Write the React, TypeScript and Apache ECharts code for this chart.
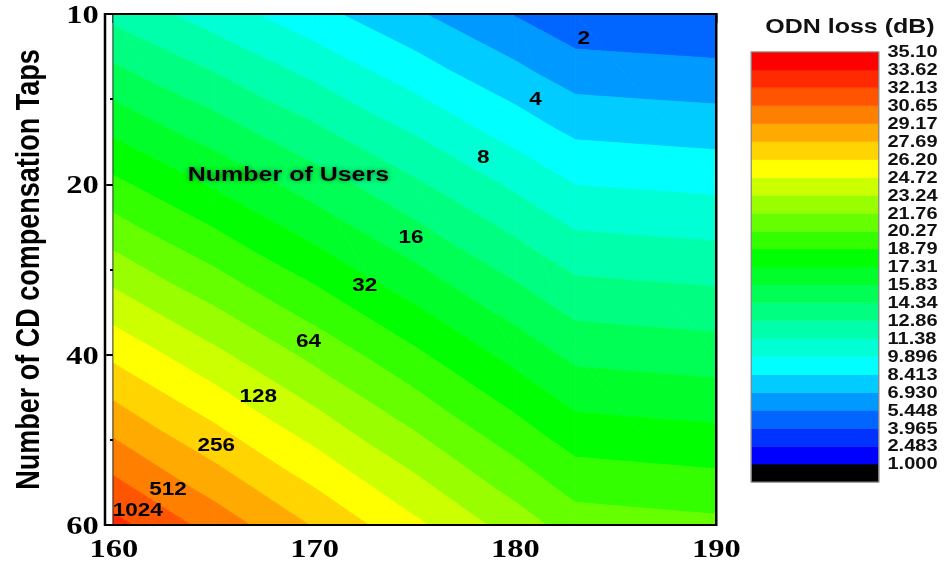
import React, { useEffect, useRef } from "react";
import * as echarts from "echarts";

// Rows: number of CD compensation taps (drawn evenly spaced, one row per entry)
const tapLabels = ["10", "20", "40", "60"];
// Columns along the horizontal axis
const xColumns = [160, 165, 170, 175, 180, 183, 190];
// ODN loss (dB) for each tap row, one value per column
const loss10 = [12.4, 10.64, 8.88, 7.12, 5.36, 4.3, 4.0];
const loss20 = [19.13, 17.12, 15.11, 13.09, 11.08, 9.87, 9.54];
const loss40 = [25.86, 23.6, 21.33, 19.07, 16.8, 15.44, 15.08];
const loss60 = [32.6, 30.07, 27.56, 25.04, 22.53, 21.01, 20.62];
const lossRows = [loss10, loss20, loss40, loss60];

// Contour levels (dB) and their legend texts
const contourLevels = [
  1.0, 2.483, 3.965, 5.448, 6.93, 8.413, 9.896, 11.38, 12.86, 14.34, 15.83, 17.31,
  18.79, 20.27, 21.76, 23.24, 24.72, 26.2, 27.69, 29.17, 30.65, 32.13, 33.62, 35.1,
];
const levelLabels = [
  "1.000", "2.483", "3.965", "5.448", "6.930", "8.413", "9.896", "11.38", "12.86", "14.34",
  "15.83", "17.31", "18.79", "20.27", "21.76", "23.24", "24.72", "26.20", "27.69", "29.17",
  "30.65", "32.13", "33.62", "35.10",
];
// Fill colour of each band between consecutive levels (low to high)
const bandColors = [
  "#0000FF", "#0033FF", "#0066FF", "#0099FF", "#00CCFF", "#00FFFF", "#00FFD4", "#00FFAA",
  "#00FF80", "#00FF55", "#00FF2A", "#00FF00", "#33FF00", "#66FF00", "#99FF00", "#CCFF00",
  "#FFFF00", "#FFD400", "#FFAA00", "#FF8000", "#FF5500", "#FF2A00", "#FF0000",
];
const underflowColor = "#000000";

// Number-of-users annotations placed along the contours
const userCounts = ["2", "4", "8", "16", "32", "64", "128", "256", "512", "1024"];
const userLabelX = [183.4, 181.0, 178.4, 174.8, 172.5, 169.7, 167.2, 165.1, 162.7, 161.2];
const userLabelRow = [0.14, 0.5, 0.84, 1.31, 1.59, 1.92, 2.24, 2.53, 2.79, 2.91];
const usersTitle = "Number of Users";
const usersTitleX = 168.7;
const usersTitleRow = 0.94;

type P = { x: number; y: number; v: number };

// Keep the part of a polygon on one side of a value level (linear along edges)
function clipAt(poly: P[], level: number, keepAbove: boolean): P[] {
  const out: P[] = [];
  const n = poly.length;
  for (let i = 0; i < n; i++) {
    const a = poly[i];
    const b = poly[(i + 1) % n];
    const ina = keepAbove ? a.v >= level : a.v <= level;
    const inb = keepAbove ? b.v >= level : b.v <= level;
    if (ina) out.push(a);
    if (ina !== inb) {
      const t = (level - a.v) / (b.v - a.v);
      out.push({ x: a.x + t * (b.x - a.x), y: a.y + t * (b.y - a.y), v: level });
    }
  }
  return out;
}

function bandOf(k: number) {
  const lo = k < 0 ? -Infinity : contourLevels[k];
  const hi = k >= bandColors.length - 1 ? Infinity : contourLevels[k + 1];
  const color = k < 0 ? underflowColor : bandColors[k];
  return { lo, hi, color };
}

export default function App() {
  const ref = useRef<HTMLDivElement>(null);

  useEffect(() => {
    if (!ref.current) return;
    const chart = echarts.init(ref.current, undefined, { renderer: "svg" });

    const cells: number[][] = [];
    for (let r = 0; r < lossRows.length - 1; r++) {
      for (let c = 0; c < xColumns.length - 1; c++) {
        cells.push([xColumns[c], r, c]);
      }
    }

    const renderCell = (_params: any, api: any) => {
      const c = api.value(2) as number;
      const r = api.value(1) as number;
      const p00: P = { x: xColumns[c], y: r, v: lossRows[r][c] };
      const p10: P = { x: xColumns[c + 1], y: r, v: lossRows[r][c + 1] };
      const p01: P = { x: xColumns[c], y: r + 1, v: lossRows[r + 1][c] };
      const p11: P = { x: xColumns[c + 1], y: r + 1, v: lossRows[r + 1][c + 1] };
      const tris = [
        [p00, p10, p11],
        [p00, p11, p01],
      ];
      const children: any[] = [];
      for (const tri of tris) {
        for (let k = -1; k < bandColors.length; k++) {
          const { lo, hi, color } = bandOf(k);
          let poly: P[] = tri;
          if (isFinite(lo)) poly = clipAt(poly, lo, true);
          if (poly.length >= 3 && isFinite(hi)) poly = clipAt(poly, hi, false);
          if (poly.length < 3) continue;
          children.push({
            type: "polygon",
            shape: { points: poly.map((p) => api.coord([p.x, p.y])) },
            style: { fill: color, stroke: color, lineWidth: 0.7 },
            silent: true,
          });
        }
      }
      return { type: "group", children };
    };

    const legendBands: number[][] = [];
    for (let k = -1; k < bandColors.length; k++) legendBands.push([0, k]);

    const renderLegendBand = (_params: any, api: any) => {
      const k = api.value(1) as number;
      const a = api.coord([0, k + 1]);
      const b = api.coord([1, k]);
      const color = bandOf(k).color;
      return {
        type: "rect",
        shape: { x: a[0], y: a[1], width: b[0] - a[0], height: b[1] - a[1] },
        style: { fill: color, stroke: color, lineWidth: 0.5 },
        silent: true,
      };
    };

    const annotations: any[] = userCounts.map((u, i) => ({
      value: [userLabelX[i], userLabelRow[i]],
      name: u,
    }));
    annotations.push({
      value: [usersTitleX, usersTitleRow],
      name: usersTitle,
      label: {
        fontSize: 20,
        color: "#050505",
        textShadowColor: "rgba(0,60,0,0.6)",
        textShadowBlur: 5,
      },
    });

    const serifLabel = {
      fontFamily: "Liberation Serif",
      fontWeight: "bold" as const,
      fontSize: 26,
      color: "#000",
    };

    chart.setOption({
      animation: false,
      backgroundColor: "#fff",
      grid: [
        { left: 84, top: 14, width: 489, height: 511 },
        { left: 601, top: 52, width: 102, height: 430 },
      ],
      xAxis: [
        {
          gridIndex: 0,
          type: "value",
          min: 160,
          max: 190,
          interval: 10,
          axisLine: { lineStyle: { color: "#000", width: 2 } },
          axisTick: { length: 9, lineStyle: { color: "#000", width: 2 } },
          axisLabel: { ...serifLabel, margin: 10 },
          splitLine: { show: false },
        },
        { gridIndex: 1, type: "value", min: 0, max: 1, show: false },
      ],
      yAxis: [
        {
          gridIndex: 0,
          type: "value",
          min: 0,
          max: 3,
          interval: 1,
          inverse: true,
          name: "Number of CD compensation Taps",
          nameLocation: "middle",
          nameRotate: 90,
          nameGap: 56,
          nameTextStyle: {
            fontFamily: "Liberation Sans",
            fontWeight: "bold",
            fontSize: 27,
            color: "#000",
          },
          axisLine: { lineStyle: { color: "#000", width: 2 } },
          axisTick: { length: 6, lineStyle: { color: "#000", width: 2 } },
          minorTick: { show: true, splitNumber: 2, length: 3, lineStyle: { color: "#000", width: 2 } },
          axisLabel: {
            ...serifLabel,
            margin: 12,
            formatter: (v: number) => tapLabels[v] ?? "",
          },
          splitLine: { show: false },
          minorSplitLine: { show: false },
        },
        {
          gridIndex: 1,
          type: "value",
          min: -1,
          max: 23,
          interval: 1,
          position: "right",
          axisLine: { show: false },
          axisTick: { show: false },
          splitLine: { show: false },
          axisLabel: {
            fontFamily: "Liberation Sans",
            fontWeight: "bold",
            fontSize: 16,
            color: "#111",
            margin: 7,
            formatter: (v: number) => (v >= 0 ? levelLabels[v] ?? "" : ""),
          },
        },
      ],
      series: [
        {
          type: "custom",
          xAxisIndex: 0,
          yAxisIndex: 0,
          data: cells,
          renderItem: renderCell,
          silent: true,
          z: 1,
        },
        {
          type: "custom",
          xAxisIndex: 1,
          yAxisIndex: 1,
          data: legendBands,
          renderItem: renderLegendBand,
          silent: true,
        },
        {
          type: "scatter",
          xAxisIndex: 0,
          yAxisIndex: 0,
          symbolSize: 1,
          itemStyle: { color: "rgba(0,0,0,0)" },
          data: annotations,
          silent: true,
          z: 5,
          label: {
            show: true,
            position: "inside",
            formatter: (p: any) => p.name,
            fontFamily: "Liberation Sans",
            fontWeight: "bold",
            fontSize: 18,
            color: "#000",
            opacity: 1,
            textBorderWidth: 0,
          },
        },
      ],
      graphic: [
        {
          type: "rect",
          z: 100,
          silent: true,
          shape: { x: 84, y: 14, width: 489, height: 511 },
          style: { fill: "none", stroke: "#000", lineWidth: 2 },
        },
        {
          type: "rect",
          z: 100,
          silent: true,
          shape: { x: 601, y: 52, width: 102, height: 430 },
          style: { fill: "none", stroke: "#888", lineWidth: 1 },
        },
        {
          type: "text",
          z: 100,
          silent: true,
          style: {
            text: "ODN loss (dB)",
            x: 680,
            y: 26,
            align: "center",
            verticalAlign: "middle",
            fontFamily: "Liberation Sans",
            fontWeight: "bold",
            fontSize: 20,
            fill: "#111",
          },
        },
      ],
    });

    return () => chart.dispose();
  }, []);

  return (
    <div
      style={{
        position: "fixed",
        left: 0,
        top: 0,
        width: 945,
        height: 567,
        overflow: "hidden",
        background: "#fff",
      }}
    >
      <div
        ref={ref}
        style={{ width: 756, height: 567, transform: "scaleX(1.25)", transformOrigin: "0 0" }}
      />
    </div>
  );
}
